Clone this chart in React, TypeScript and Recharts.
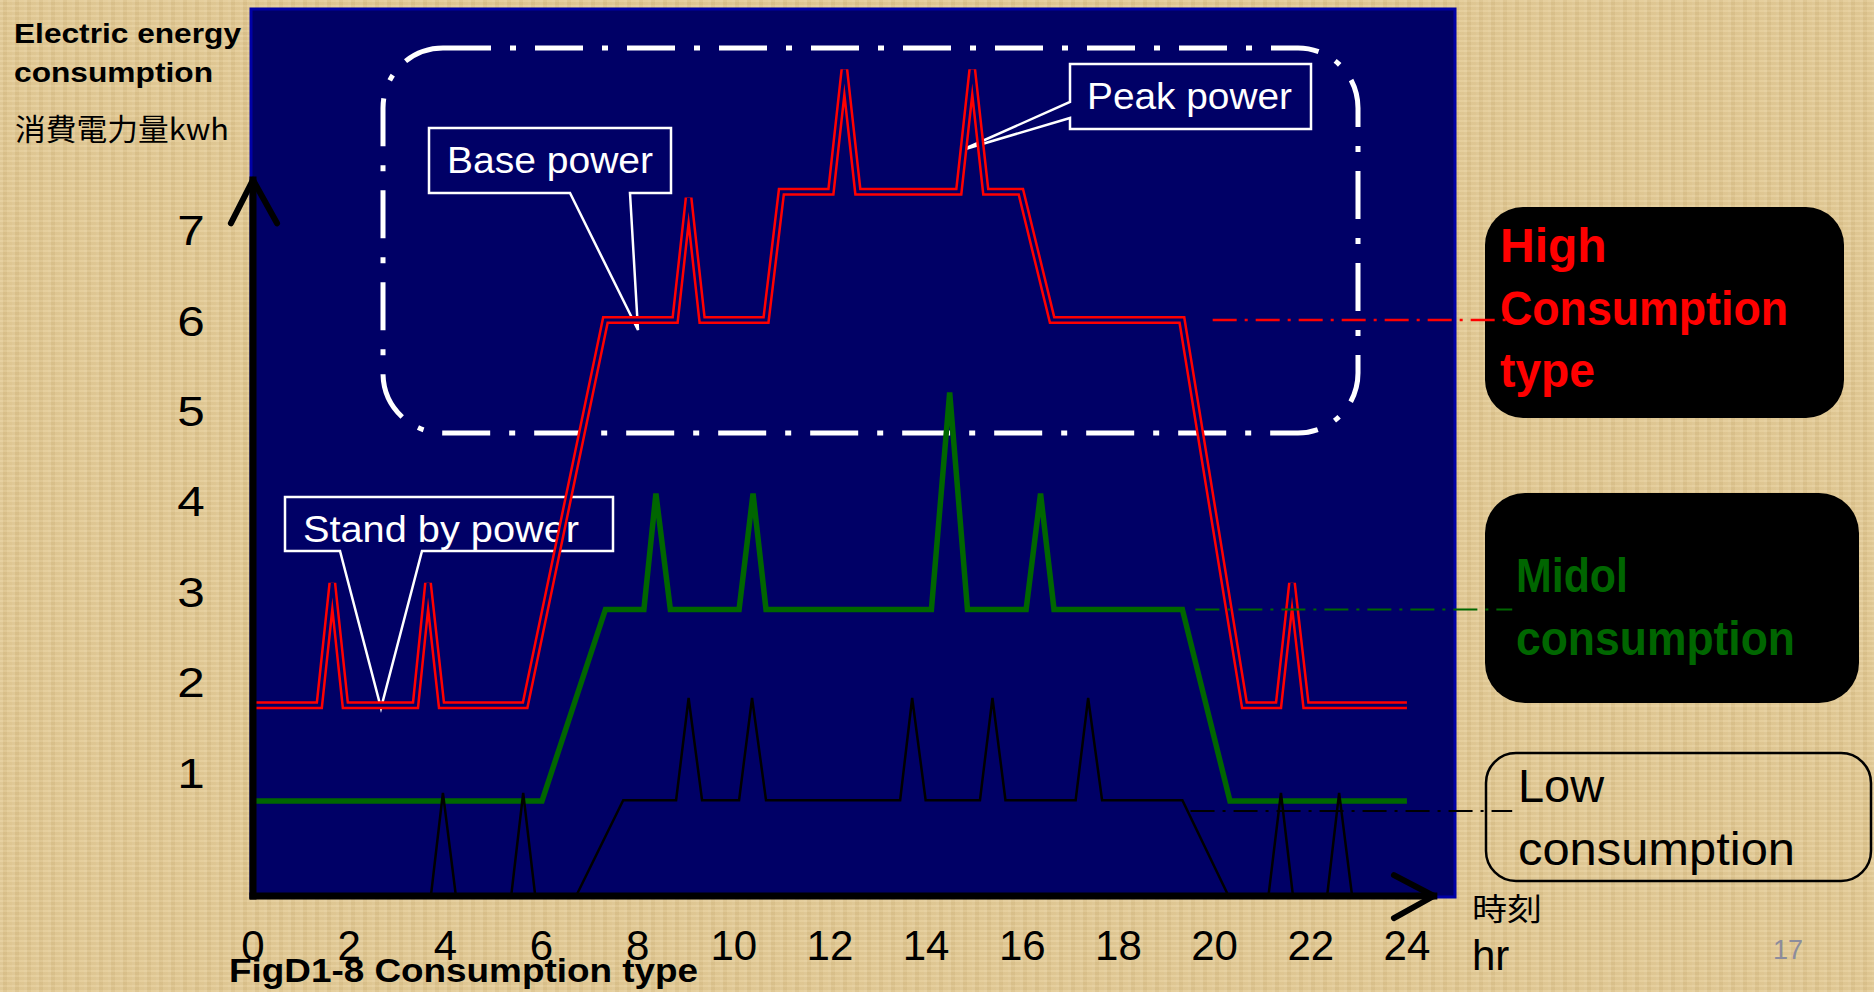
import React from 'react';
import { LineChart, Line, XAxis, YAxis, ReferenceLine } from 'recharts';

// ---- data (hours on x, kWh on the slide's label scale on y) ----
const hourTicks = [0, 2, 4, 6, 8, 10, 12, 14, 16, 18, 20, 22, 24];
const kwhTicks = [1, 2, 3, 4, 5, 6, 7];

const highHours = [0, 1.38, 1.65, 1.92, 3.38, 3.64, 3.92, 5.66, 7.33, 8.78, 9.06, 9.34, 10.67, 10.99, 12.02, 12.3, 12.58, 14.68, 14.96, 15.24, 15.97, 16.62, 19.32, 20.62, 21.33, 21.61, 21.9, 24];
const highKwh = [1.74, 1.74, 3.09, 1.74, 1.74, 3.09, 1.74, 1.74, 6.0, 6.0, 7.35, 6.0, 6.0, 7.42, 7.42, 8.77, 7.42, 7.42, 8.77, 7.42, 7.42, 6.0, 6.0, 1.74, 1.74, 3.09, 1.74, 1.74];

const midHours = [0, 6.01, 7.33, 8.13, 8.38, 8.68, 10.11, 10.4, 10.67, 14.11, 14.49, 14.86, 16.08, 16.38, 16.66, 19.33, 20.32, 24];
const midKwh = [0.68, 0.68, 2.8, 2.8, 4.08, 2.8, 2.8, 4.08, 2.8, 2.8, 5.2, 2.8, 2.8, 4.08, 2.8, 2.8, 0.68, 0.68];

const lowHours = [0, 3.7, 3.95, 4.22, 5.37, 5.62, 5.87, 6.72, 7.7, 8.8, 9.06, 9.34, 10.11, 10.38, 10.67, 13.46, 13.71, 13.99, 15.12, 15.38, 15.65, 17.11, 17.37, 17.66, 19.33, 20.29, 21.12, 21.38, 21.63, 22.34, 22.59, 22.86, 24];
const lowKwh = [-0.37, -0.37, 0.77, -0.37, -0.37, 0.77, -0.37, -0.37, 0.69, 0.69, 1.82, 0.69, 0.69, 1.82, 0.69, 0.69, 1.82, 0.69, 0.69, 1.82, 0.69, 0.69, 1.82, 0.69, 0.69, -0.37, -0.37, 0.77, -0.37, -0.37, 0.77, -0.37, -0.37];

// connector levels to the legend boxes
const highLevel = 6.0;
const midLevel = 2.8;
const lowLevel = 0.57;

// axis geometry in data units
const AXIS_ZERO = -0.37;
const Y_TOP = 9.44;
const X_MAX = 25;
const X_ARROW = 24.56;
const Y_ARROW = 7.55;

const toPoints = (hs: number[], vs: number[]) => hs.map((h, i) => ({ hour: h, kwh: vs[i] }));
const highData = toPoints(highHours, highKwh);
const midData = toPoints(midHours, midKwh);
const lowData = toPoints(lowHours, lowKwh);

const FONT = '"Liberation Sans", Arial, Helvetica, sans-serif';
const NAVY = '#000066';
const RED = '#ff0000';
const GREEN = '#006600';

const XTick = (props: any) => {
  const { x, y, payload } = props;
  return (
    <text x={x} y={y + 64} textAnchor="middle" fontSize={42} fill="#000" fontFamily={FONT}>
      {payload.value}
    </text>
  );
};

const YTick = (props: any) => {
  const { x, y, payload } = props;
  return (
    <g transform={`translate(${x - 62},${y}) scale(1.15,1)`}>
      <text x={0} y={0} dy="0.36em" textAnchor="middle" fontSize={43} fill="#000" fontFamily={FONT}>
        {payload.value}
      </text>
    </g>
  );
};

const Background = () => (
  <svg width={1874} height={992} style={{ position: 'absolute', left: 0, top: 0 }}>
    {/* plot panel */}
    <rect x={251} y={9} width={1204} height={888} fill={NAVY} stroke="#0000a6" strokeWidth={3} />
    {/* dash-dot rounded frame */}
    <rect x={383} y={48} width={975} height={385} rx={60} ry={60} fill="none" stroke="#fff" strokeWidth={5} strokeDasharray="48 19 6 19" />
    {/* callouts */}
    <path d="M429,128 H671 V193 H630 L638,330 L570,193 H429 Z" fill={NAVY} stroke="#fff" strokeWidth={2.5} />
    <text x={447} y={173} fontSize={36} fill="#fff" fontFamily={FONT} textLength={206} lengthAdjust="spacingAndGlyphs">Base power</text>
    <path d="M285,497 H613 V551 H422 L381,708 L340,551 H285 Z" fill={NAVY} stroke="#fff" strokeWidth={2.5} />
    <text x={303} y={542} fontSize={36} fill="#fff" fontFamily={FONT} textLength={276} lengthAdjust="spacingAndGlyphs">Stand by power</text>
    <path d="M1070,64 H1311 V129 H1070 V118 L962,150 L1070,102 Z" fill={NAVY} stroke="#fff" strokeWidth={2.5} />
    <text x={1087} y={109} fontSize={37} fill="#fff" fontFamily={FONT} textLength={205} lengthAdjust="spacingAndGlyphs">Peak power</text>

    {/* legend boxes */}
    <rect x={1485} y={207} width={359} height={211} rx={38} ry={38} fill="#000" />
    <text fontSize={48} fontWeight={700} fill={RED} fontFamily={FONT}>
      <tspan x={1500} y={262}>High</tspan>
    </text>
    <text x={1500} y={325} fontSize={48} fontWeight={700} fill={RED} fontFamily={FONT} textLength={288} lengthAdjust="spacingAndGlyphs">Consumption</text>
    <text x={1500} y={387} fontSize={48} fontWeight={700} fill={RED} fontFamily={FONT} textLength={95} lengthAdjust="spacingAndGlyphs">type</text>

    <rect x={1485} y={493} width={374} height={210} rx={40} ry={40} fill="#000" />
    <text x={1516} y={592} fontSize={48} fontWeight={700} fill={GREEN} fontFamily={FONT} textLength={112} lengthAdjust="spacingAndGlyphs">Midol</text>
    <text x={1516} y={655} fontSize={48} fontWeight={700} fill={GREEN} fontFamily={FONT} textLength={279} lengthAdjust="spacingAndGlyphs">consumption</text>

    <rect x={1486} y={753} width={385} height={128} rx={30} ry={30} fill="none" stroke="#000" strokeWidth={2.5} />
    <text x={1518} y={802} fontSize={46} fill="#000" fontFamily={FONT} textLength={86} lengthAdjust="spacingAndGlyphs">Low</text>
    <text x={1518} y={865} fontSize={46} fill="#000" fontFamily={FONT} textLength={277} lengthAdjust="spacingAndGlyphs">consumption</text>

    {/* axis titles and captions */}
    <text x={14} y={43} fontSize={28} fontWeight={700} fill="#000" fontFamily={FONT} textLength={227} lengthAdjust="spacingAndGlyphs">Electric energy</text>
    <text x={14} y={82} fontSize={28} fontWeight={700} fill="#000" fontFamily={FONT} textLength={199} lengthAdjust="spacingAndGlyphs">consumption</text>
    <text x={15} y={140} fontSize={30} fill="#000" fontFamily={'"Noto Sans CJK JP", ' + FONT} textLength={214} lengthAdjust="spacingAndGlyphs">消費電力量kwh</text>
    <text x={1472} y={920} fontSize={31} fill="#000" fontFamily={'"Noto Sans CJK JP", ' + FONT} textLength={70} lengthAdjust="spacingAndGlyphs">時刻</text>
    <text x={1472} y={970} fontSize={42} fill="#000" fontFamily={FONT}>hr</text>
    <text x={1773} y={959} fontSize={27} fill="#8c8c9c" fontFamily={FONT}>17</text>
  </svg>
);

const Caption = () => (
  <svg width={1874} height={992} style={{ position: 'absolute', left: 0, top: 0, pointerEvents: 'none' }}>
    <text x={229} y={982} fontSize={33} fontWeight={700} fill="#000" fontFamily={FONT} textLength={469} lengthAdjust="spacingAndGlyphs">FigD1-8 Consumption type</text>
  </svg>
);

export default function App() {
  return (
    <div
      style={{
        position: 'absolute',
        left: 0,
        top: 0,
        width: 1874,
        height: 992,
        overflow: 'hidden',
        background:
          'repeating-linear-gradient(90deg, rgba(255,255,255,0.07) 0 3px, rgba(120,90,40,0.05) 3px 7px, rgba(255,255,255,0.03) 7px 12px), repeating-linear-gradient(0deg, rgba(255,255,255,0.06) 0 2px, rgba(120,90,40,0.05) 2px 5px), #e3ca94',
        fontFamily: FONT,
      }}
    >
      <Background />
      <div style={{ position: 'absolute', left: 0, top: 0 }}>
        <LineChart width={1874} height={992} margin={{ top: 9, right: 419, bottom: 36, left: 153 }}>
          <XAxis
            type="number"
            dataKey="hour"
            domain={[0, X_MAX]}
            ticks={hourTicks}
            interval={0}
            axisLine={false}
            tickLine={false}
            tickSize={0}
            tickMargin={0}
            height={60}
            tick={XTick}
          />
          <YAxis
            type="number"
            dataKey="kwh"
            domain={[AXIS_ZERO, Y_TOP]}
            ticks={kwhTicks}
            interval={0}
            axisLine={false}
            tickLine={false}
            tickSize={0}
            tickMargin={0}
            width={100}
            tick={YTick}
          />
          <Line data={highData} dataKey="kwh" type="linear" stroke={RED} strokeWidth={8} dot={false} activeDot={false} isAnimationActive={false} />
          <Line data={highData} dataKey="kwh" type="linear" stroke={NAVY} strokeWidth={3} dot={false} activeDot={false} isAnimationActive={false} />
          <Line data={midData} dataKey="kwh" type="linear" stroke={GREEN} strokeWidth={5.5} dot={false} activeDot={false} isAnimationActive={false} />
          <Line data={lowData} dataKey="kwh" type="linear" stroke="#000" strokeWidth={2.5} dot={false} activeDot={false} isAnimationActive={false} />

          {/* connectors to legend boxes */}
          <ReferenceLine segment={[{ x: 19.96, y: highLevel }, { x: 26.1, y: highLevel }]} stroke={RED} strokeWidth={2.5} strokeDasharray="24 8 3 8" ifOverflow="visible" />
          <ReferenceLine segment={[{ x: 19.6, y: midLevel }, { x: 26.19, y: midLevel }]} stroke={GREEN} strokeWidth={2} strokeDasharray="24 8 3 8" ifOverflow="visible" />
          <ReferenceLine segment={[{ x: 19.5, y: lowLevel }, { x: 26.19, y: lowLevel }]} stroke="#000" strokeWidth={2} strokeDasharray="24 8 3 8" ifOverflow="visible" />

          {/* axes with arrow heads */}
          <ReferenceLine segment={[{ x: 0, y: AXIS_ZERO }, { x: X_ARROW, y: AXIS_ZERO }]} stroke="#000" strokeWidth={7} strokeLinecap="square" ifOverflow="visible" />
          <ReferenceLine segment={[{ x: 0, y: AXIS_ZERO }, { x: 0, y: Y_ARROW }]} stroke="#000" strokeWidth={7} strokeLinecap="square" ifOverflow="visible" />
          <ReferenceLine segment={[{ x: -0.46, y: 7.07 }, { x: 0, y: Y_ARROW }]} stroke="#000" strokeWidth={6} strokeLinecap="round" ifOverflow="visible" />
          <ReferenceLine segment={[{ x: 0.5, y: 7.07 }, { x: 0, y: Y_ARROW }]} stroke="#000" strokeWidth={6} strokeLinecap="round" ifOverflow="visible" />
          <ReferenceLine segment={[{ x: 23.73, y: -0.14 }, { x: X_ARROW, y: AXIS_ZERO }]} stroke="#000" strokeWidth={6} strokeLinecap="round" ifOverflow="visible" />
          <ReferenceLine segment={[{ x: 23.73, y: -0.615 }, { x: X_ARROW, y: AXIS_ZERO }]} stroke="#000" strokeWidth={6} strokeLinecap="round" ifOverflow="visible" />
        </LineChart>
      </div>
      <Caption />
    </div>
  );
}
